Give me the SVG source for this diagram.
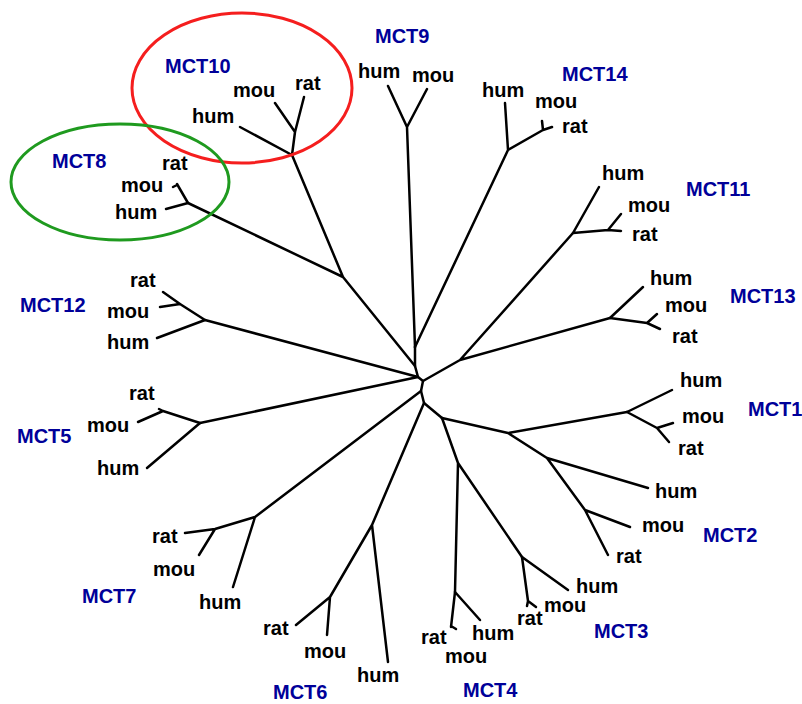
<svg xmlns="http://www.w3.org/2000/svg" width="802" height="704" viewBox="0 0 802 704">
<style>
.e{fill:none;stroke:#000;stroke-width:2.5;stroke-linecap:round;stroke-linejoin:round}
.s{font-family:"Liberation Sans",Arial,sans-serif;font-weight:bold;font-size:20px;fill:#000}
.m{font-family:"Liberation Sans",Arial,sans-serif;font-weight:bold;font-size:20px;fill:#000099}
</style>
<rect width="802" height="704" fill="#fff"/>
<g id="connectors">
<path class="e" d="M415,347 L415,366 L418,377 L423,381 L421,391 L424,403 L442,418"/>
<path class="e" d="M205,320 L418,377 M200,423 L418,377"/>
<path class="e" d="M415,366 L343,277 L292,155 M343,277 L188,203"/>
<path class="e" d="M292,155 L295,132 L304,97 M295,132 L275,103 M292,155 L240,127"/>
<path class="e" d="M188,203 L166,209 M188,203 L177,184 M177,185 L173,187"/>
<path class="e" d="M415,347 L407,127 L388,86 M407,127 L427,89"/>
<path class="e" d="M415,347 L508,150 L505,103 M508,150 L543,130 L552,127 M543,130 L542,121"/>
<path class="e" d="M423,381 L460,360 L573,233 M460,360 L610,318"/>
<path class="e" d="M573,233 L599,187 M573,233 L608,230 L621,231 M608,230 L621,214"/>
<path class="e" d="M610,318 L643,287 M610,318 L647,323 L660,329 M647,323 L657,314"/>
<path class="e" d="M442,418 L508,433 L627,412 M508,433 L547,458 L648,488 M547,458 L585,510 L630,527 M585,510 L608,555"/>
<path class="e" d="M627,412 L672,390 M627,412 L657,428 L673,423 M657,428 L669,442"/>
<path class="e" d="M442,418 L458,463 L455,592 M458,463 L522,557"/>
<path class="e" d="M522,557 L568,590 M522,557 L528,601 L536,607 M528,601 L527,606"/>
<path class="e" d="M455,592 L480,620 M455,592 L451,627 M451,626 L456,629"/>
<path class="e" d="M421,391 L255,517 L233,587 M255,517 L215,529 L185,533 M215,529 L199,555"/>
<path class="e" d="M424,403 L372,525 L388,662 M372,525 L330,597 L296,625 M330,597 L327,635"/>
<path class="e" d="M205,320 L157,338 M205,320 L180,304 L163,292 M180,304 L160,307"/>
<path class="e" d="M200,423 L147,468 M200,423 L163,411 L159,409 M163,411 L138,422"/>
</g>
<g id="mct10">
<ellipse cx="242" cy="88" rx="110" ry="75" fill="none" stroke="#f51e1e" stroke-width="3"/>
<text class="m" x="165" y="73">MCT10</text>
<text class="s" x="233" y="97">mou</text>
<text class="s" x="295" y="90">rat</text>
<text class="s" x="192" y="123">hum</text>
</g>
<g id="mct8">
<ellipse cx="120" cy="182" rx="109" ry="58" fill="none" stroke="#1f9a1f" stroke-width="3"/>
<text class="m" x="52" y="168">MCT8</text>
<text class="s" x="162" y="170">rat</text>
<text class="s" x="121" y="192">mou</text>
<text class="s" x="115" y="219">hum</text>
</g>
<g id="mct9">
<text class="m" x="375" y="43">MCT9</text>
<text class="s" x="358" y="78">hum</text>
<text class="s" x="412" y="82">mou</text>
</g>
<g id="mct14">
<text class="m" x="562" y="81">MCT14</text>
<text class="s" x="482" y="97">hum</text>
<text class="s" x="535" y="108">mou</text>
<text class="s" x="562" y="133">rat</text>
</g>
<g id="mct11">
<text class="m" x="686" y="196">MCT11</text>
<text class="s" x="602" y="180">hum</text>
<text class="s" x="628" y="212">mou</text>
<text class="s" x="632" y="241">rat</text>
</g>
<g id="mct13">
<text class="m" x="730" y="303">MCT13</text>
<text class="s" x="650" y="285">hum</text>
<text class="s" x="665" y="312">mou</text>
<text class="s" x="672" y="343">rat</text>
</g>
<g id="mct1">
<text class="m" x="748" y="416">MCT1</text>
<text class="s" x="680" y="387">hum</text>
<text class="s" x="682" y="423">mou</text>
<text class="s" x="678" y="455">rat</text>
</g>
<g id="mct2">
<text class="m" x="703" y="542">MCT2</text>
<text class="s" x="655" y="498">hum</text>
<text class="s" x="642" y="532">mou</text>
<text class="s" x="616" y="563">rat</text>
</g>
<g id="mct3">
<text class="m" x="594" y="638">MCT3</text>
<text class="s" x="576" y="593">hum</text>
<text class="s" x="544" y="612">mou</text>
<text class="s" x="517" y="625">rat</text>
</g>
<g id="mct4">
<text class="m" x="463" y="697">MCT4</text>
<text class="s" x="472" y="640">hum</text>
<text class="s" x="421" y="644">rat</text>
<text class="s" x="445" y="663">mou</text>
</g>
<g id="mct6">
<text class="m" x="273" y="699">MCT6</text>
<text class="s" x="263" y="635">rat</text>
<text class="s" x="304" y="658">mou</text>
<text class="s" x="357" y="682">hum</text>
</g>
<g id="mct7">
<text class="m" x="82" y="603">MCT7</text>
<text class="s" x="152" y="543">rat</text>
<text class="s" x="153" y="576">mou</text>
<text class="s" x="199" y="609">hum</text>
</g>
<g id="mct5">
<text class="m" x="17" y="443">MCT5</text>
<text class="s" x="129" y="400">rat</text>
<text class="s" x="87" y="432">mou</text>
<text class="s" x="97" y="475">hum</text>
</g>
<g id="mct12">
<text class="m" x="20" y="312">MCT12</text>
<text class="s" x="130" y="287">rat</text>
<text class="s" x="107" y="318">mou</text>
<text class="s" x="107" y="349">hum</text>
</g>
</svg>
